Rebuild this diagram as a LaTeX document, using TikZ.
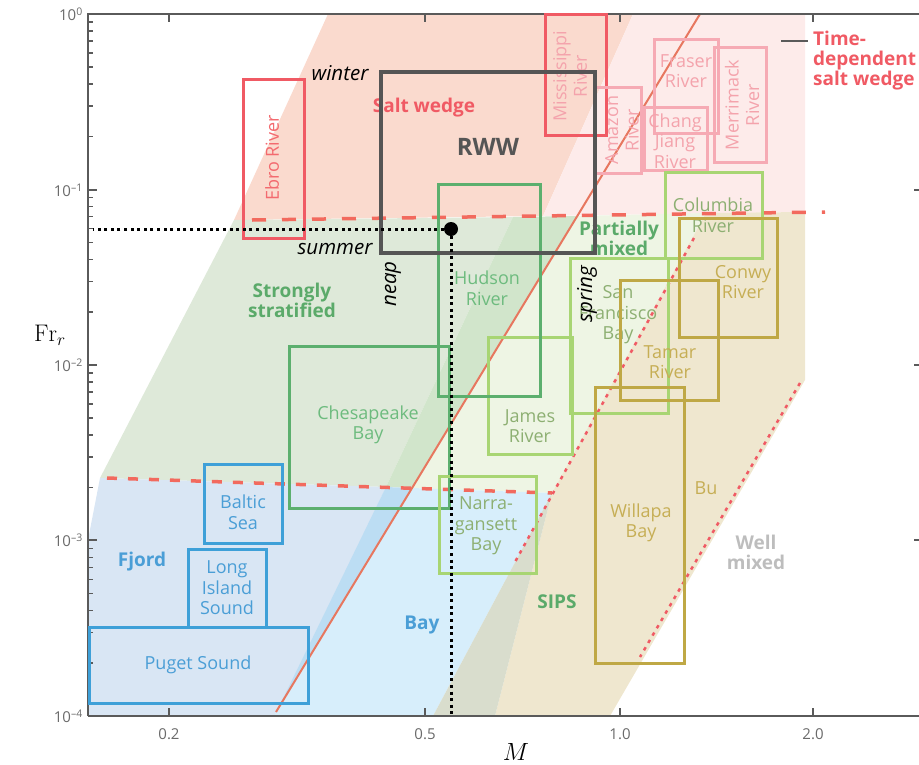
\documentclass[tikz,border=0pt]{standalone}
\usepackage{fontspec}
\setsansfont{Open Sans}
\usetikzlibrary{calc}

\definecolor{saltwedge}{HTML}{FADACE}
\definecolor{timedep}{HTML}{FDEBEA}
\definecolor{stratified}{HTML}{DEE9D9}
\definecolor{stratmid}{HTML}{D1E5CB}
\definecolor{partmixed}{HTML}{EEF5E4}
\definecolor{sips}{HTML}{EFE7CF}
\definecolor{fjord}{HTML}{D9E6F4}
\definecolor{baymid}{HTML}{BCDDF3}
\definecolor{bay}{HTML}{D7EEFB}
\definecolor{sipsbay}{HTML}{D9DDCD}
\definecolor{coral}{HTML}{F26A5E}
\definecolor{redline}{HTML}{E7775F}
\definecolor{axisgray}{HTML}{5A5A5A}
\definecolor{tickgray}{HTML}{6A6A6A}
\definecolor{wedgered}{HTML}{F05A64}
\definecolor{wedgetext}{HTML}{F36A6F}
\definecolor{pinkbox}{HTML}{F6AAB4}
\definecolor{pinktext}{HTML}{F4A3AC}
\definecolor{greenbox}{HTML}{5CAF6E}
\definecolor{greentext}{HTML}{6DBB7E}
\definecolor{limebox}{HTML}{A8D573}
\definecolor{limetext}{HTML}{8DAF72}
\definecolor{olivebox}{HTML}{BFA845}
\definecolor{olivetext}{HTML}{C6AE55}
\definecolor{bluebox}{HTML}{3EA0D8}
\definecolor{bluetext}{HTML}{4A9ED6}
\definecolor{regiongreen}{HTML}{5BAA6A}
\definecolor{rwwgray}{HTML}{555555}
\definecolor{wellgray}{HTML}{BDBDBD}

\begin{document}
\begin{tikzpicture}[
    x=1pt, y=-1pt,
    axis/.style={draw=axisgray, line width=2pt},
    riverbox/.style={line width=3pt},
    boxtext/.style={font=\sffamily\fontsize{18}{20.5}\selectfont, align=center, inner sep=0pt},
    regiontext/.style={font=\sffamily\bfseries\fontsize{19}{20}\selectfont, align=center, inner sep=0pt},
    ticktext/.style={font=\sffamily\fontsize{15}{18}\selectfont, text=tickgray, inner sep=0pt},
    seasontext/.style={font=\sffamily\itshape\fontsize{20.5}{21}\selectfont, inner sep=0pt},
    upperdash/.style={draw=coral, line width=3.5pt, dash pattern=on 14pt off 16pt},
    lowerdash/.style={draw=coral, line width=3.5pt, dash pattern=on 10pt off 11pt},
    sipsedge/.style={draw=wedgered, line width=2.5pt, dash pattern=on 3.5pt off 5pt},
    guide/.style={draw=black, line width=3pt, dash pattern=on 3pt off 3.6pt}
]
\useasboundingbox (0,0) rectangle (919,764);

% regimes
\fill[saltwedge] (328,14) -- (633,14) -- (543,216) -- (234,220) -- cycle;
\fill[timedep] (633,14) -- (805,14) -- (805,212) -- (543,216) -- cycle;
\fill[stratified] (234,220) -- (513,217) -- (386,487) -- (100,478) -- cycle;
\fill[stratmid] (513,217) -- (577,216) -- (412,488) -- (386,487) -- cycle;
\fill[partmixed] (577,216) -- (706,213) -- (552,493) -- (412,488) -- cycle;
\fill[sips] (706,213) -- (805,212) -- (805,380) -- (610,716) -- (495,716) -- (552,493) -- cycle;
\fill[fjord] (100,478) -- (386,487) -- (280,716) -- (88,716) -- (88,540) -- cycle;
\fill[baymid] (386,487) -- (412,488) -- (276,713) -- cycle;
\fill[bay] (412,488) -- (552,493) -- (433,716) -- (274,716) -- cycle;
\fill[sipsbay] (552,493) -- (495,716) -- (433,716) -- cycle;

% regime boundaries
\draw[redline, line width=2pt] (276,712) -- (700,14);
\draw[upperdash] (252,220) -- (825,212);
\draw[lowerdash] (107,478) -- (552,493);
\draw[sipsedge] (694,238) -- (515,562);
\draw[sipsedge] (800,383) -- (640,657);

% axes
\draw[axis] (88,716) -- (88,14) -- (919,14);
\draw[axis] (88,716) -- (919,716);
\foreach \x in {169,425,620,813} {
    \draw[axis] (\x,14) -- ++(0,8);
    \draw[axis] (\x,716) -- ++(0,-8);
}
\foreach \y in {14,190,365,540,716}
    \draw[axis] (88,\y) -- ++(9,0);
\foreach \y in {190,365,540}
    \draw[axis] (919,\y) -- ++(-5,0);
\foreach \d in {0,...,3}
    \foreach \k in {2,...,9}
        \draw[axis, line width=1.5pt] (88,{14+175.5*(\d+1)-175.5*log10(\k)}) -- ++(5,0);

\node[ticktext, anchor=east] (fr0) at (83,14) {10\textsuperscript{0}};
\node[ticktext, anchor=east] (fr1) at (83,190) {10\textsuperscript{\textendash1}};
\node[ticktext, anchor=east] (fr2) at (83,365) {10\textsuperscript{\textendash2}};
\node[ticktext, anchor=east] (fr3) at (83,540) {10\textsuperscript{\textendash3}};
\node[ticktext, anchor=east] (fr4) at (83,716) {10\textsuperscript{\textendash4}};
\node[ticktext] (m02) at (169,734) {0.2};
\node[ticktext] (m05) at (425,734) {0.5};
\node[ticktext] (m10) at (620,734) {1.0};
\node[ticktext] (m20) at (813,734) {2.0};
\node[font=\fontsize{24}{26}\selectfont] (frlabel) at (50,335) {$\mathrm{Fr}_r$};
\node[font=\fontsize{24}{26}\selectfont] (mlabel) at (516,752) {$M$};

% regime labels
\node[regiontext, text=wedgered] (saltlabel) at (424,108) {Salt wedge};
\node[regiontext, text=regiongreen] (stratlabel) at (292,300) {Strongly\\stratified};
\node[regiontext, text=regiongreen] (partlabel) at (619,238) {Partially\\mixed};
\node[regiontext, text=bluetext] (fjordlabel) at (142,562) {Fjord};
\node[regiontext, text=bluetext] (baylabel) at (422,625) {Bay};
\node[regiontext, text=regiongreen] (sipslabel) at (557,602) {SIPS};
\node[regiontext, text=wellgray] (welllabel) at (756,552) {Well\\mixed};
\node[boxtext, text=olivetext] (bulabel) at (706,488) {Bu};
\node[regiontext, text=wedgered, align=left, anchor=west] (tdlabel) at (813,61) {Time-\\dependent\\salt wedge};
\coordinate (tdtick) at (781,41);
\coordinate (tdend) at (808,41);
\draw[axisgray, line width=2pt] (tdtick) -- (tdend);

% estuaries
\draw[riverbox, draw=wedgered] (243,79) rectangle (304,238);
\node[boxtext, text=wedgetext, rotate=90] (ebro) at (272,158) {Ebro River};
\draw[riverbox, draw=wedgered] (545,14) rectangle (606,135);
\node[boxtext, text=pinktext, rotate=90] (mississippi) at (570,76) {Mississippi\\River};
\draw[riverbox, draw=pinkbox] (595,87) rectangle (641,173);
\node[boxtext, text=pinktext, rotate=90] (amazon) at (622,130) {Amazon\\River};
\draw[riverbox, draw=pinkbox] (654,39) rectangle (718,133);
\node[boxtext, text=pinktext] (fraser) at (686,71) {Fraser\\River};
\draw[riverbox, draw=pinkbox] (644,107) rectangle (707,170);
\node[boxtext, text=pinktext] (changjiang) at (675,141) {Chang\\Jiang\\River};
\draw[riverbox, draw=pinkbox] (714,47) rectangle (766,162);
\node[boxtext, text=pinktext, rotate=90] (merrimack) at (742,105) {Merrimack\\River};

\draw[riverbox, draw=limebox] (665,172) rectangle (762,258);
\node[boxtext, text=limetext] (columbia) at (713,215) {Columbia\\River};
\draw[riverbox, draw=olivebox] (679,218) rectangle (777,337);
\node[boxtext, text=olivetext] (conwy) at (743,282) {Conwy\\River};
\draw[riverbox, draw=limebox] (570,258) rectangle (668,413);
\node[boxtext, text=limetext] (sfbay) at (618,315) {San\\Francisco\\Bay};
\draw[riverbox, draw=olivebox] (620,280) rectangle (718,400);
\node[boxtext, text=olivetext] (tamar) at (670,362) {Tamar\\River};
\draw[riverbox, draw=olivebox] (595,387) rectangle (684,663);
\node[boxtext, text=olivetext] (willapa) at (641,523) {Willapa\\Bay};
\draw[riverbox, draw=limebox] (488,337) rectangle (572,454);
\node[boxtext, text=limetext] (james) at (530,426) {James\\River};
\draw[riverbox, draw=greenbox] (438,184) rectangle (540,396);
\node[boxtext, text=greentext] (hudson) at (487,288) {Hudson\\River};
\draw[riverbox, draw=greenbox] (289,346) rectangle (449,508);
\node[boxtext, text=greentext] (chesapeake) at (368,425) {Chesapeake\\Bay};
\draw[riverbox, draw=limebox] (439,476) rectangle (536,573);
\node[boxtext, text=limetext] (narragansett) at (486,526) {Narra-\\gansett\\Bay};
\draw[riverbox, draw=bluebox] (204,464) rectangle (282,543);
\node[boxtext, text=bluetext] (baltic) at (243,512) {Baltic\\Sea};
\draw[riverbox, draw=bluebox] (188,549) rectangle (266,627);
\node[boxtext, text=bluetext] (longisland) at (227,588) {Long\\Island\\Sound};
\draw[riverbox, draw=bluebox] (89,627) rectangle (308,703);
\node[boxtext, text=bluetext] (puget) at (198,665) {Puget Sound};

% RWW
\draw[draw=rwwgray, line width=4pt] (381,72) rectangle (595,253);
\node[regiontext, text=rwwgray, font=\sffamily\bfseries\fontsize{24}{25}\selectfont] (rww) at (488,147) {RWW};
\node[seasontext] (winter) at (340,73) {winter};
\node[seasontext] (summer) at (335,249) {summer};
\node[seasontext, rotate=90] (neap) at (393,284) {neap};
\node[seasontext, rotate=90] (spring) at (587,294) {spring};

\node[circle, fill=black, minimum size=14pt, inner sep=0pt] (rwwpt) at (451,229) {};
\coordinate (frax) at (93,229);
\coordinate (max) at (451,716);
\draw[guide] (rwwpt) -- (frax);
\draw[guide] (rwwpt) -- (max);

\end{tikzpicture}
\end{document}
